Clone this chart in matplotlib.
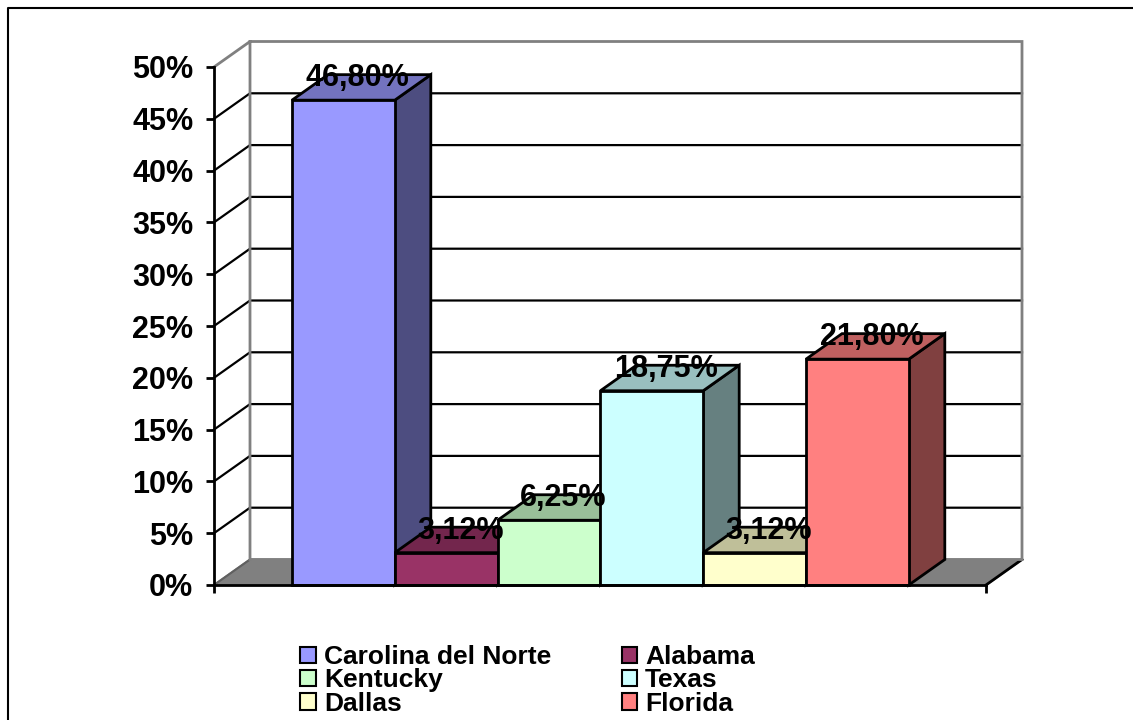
import matplotlib
matplotlib.use("Agg")
import matplotlib.pyplot as plt
from matplotlib.lines import Line2D
from matplotlib.patches import Polygon, Patch
from matplotlib.colors import to_rgb

categories = ["Carolina del Norte", "Alabama", "Kentucky", "Texas", "Dallas", "Florida"]
values = [46.80, 3.12, 6.25, 18.75, 3.12, 21.80]
colors = ["#9999FF", "#993366", "#CCFFCC", "#CCFFFF", "#FFFFCC", "#FF8080"]
y_ticks = list(range(0, 55, 5))

W, H = 1133, 720
plt.rcParams["font.family"] = ["Liberation Sans", "DejaVu Sans"]
plt.rcParams["font.weight"] = "bold"

fig = plt.figure(figsize=(W / 100, H / 100), dpi=100)
L, R, B0, T50 = 214, 986, 585, 67
ax = fig.add_axes([L / W, 1 - B0 / H, (R - L) / W, (B0 - T50) / H])

cat_px = 102.8
pct_px = (B0 - T50) / 50
ax.set_xlim(-0.5 - (292 - L) / cat_px, -0.5 - (292 - L) / cat_px + (R - L) / cat_px)
ax.set_ylim(0, 50)
x0, x1 = ax.get_xlim()
dx, dy = 36 / cat_px, 25.5 / pct_px


def shade(c, f):
    return tuple(v * f for v in to_rgb(c))


def poly(pts, fc, ec, lw=2.0, z=1):
    ax.add_patch(Polygon(pts, closed=True, facecolor=fc, edgecolor=ec, lw=lw,
                         zorder=z, clip_on=False, joinstyle="miter"))


# floor
poly([(x0, 0), (x0 + dx, dy), (x1 + dx, dy), (x1, 0)], "#808080", "#808080", 1.5, 1)
ax.plot([x1, x1 + dx], [0, dy], color="black", lw=2, zorder=1.2, clip_on=False)
ax.plot([x0, x0 + dx], [0, dy], color="#606060", lw=1.5, zorder=1.2, clip_on=False)

# gridlines on side and back walls
for t in y_ticks[1:-1]:
    ax.plot([x0, x0 + dx, x1 + dx], [t, t + dy, t + dy], color="black", lw=1.6,
            zorder=1.3, clip_on=False, solid_joinstyle="miter")

# wall outline
top = y_ticks[-1]
ax.plot([x0, x0 + dx, x1 + dx, x1 + dx, x0 + dx, x0 + dx],
        [top, top + dy, top + dy, dy, dy, top + dy], color="#808080", lw=2,
        zorder=1.4, clip_on=False, solid_joinstyle="miter")

# 3D bars
for i, (v, c) in enumerate(zip(values, colors)):
    a, b = i - 0.5, i + 0.5
    z = 2 + i * 0.1
    poly([(b, 0), (b + dx, dy), (b + dx, v + dy), (b, v)], shade(c, 0.5), "black", 2, z)
    poly([(a, v), (a + dx, v + dy), (b + dx, v + dy), (b, v)], shade(c, 0.75), "black", 2, z)
    poly([(a, 0), (b, 0), (b, v), (a, v)], c, "black", 2, z)

# data labels
for i, v in enumerate(values):
    ax.text(i + 14 / cat_px, v + 22 / pct_px, f"{v:.2f}%".replace(".", ","),
            ha="center", va="center", fontsize=22, fontweight="bold", color="black",
            zorder=5, clip_on=False)

# axes
for s in ("top", "right"):
    ax.spines[s].set_visible(False)
for s in ("left", "bottom"):
    ax.spines[s].set_linewidth(2)
    ax.spines[s].set_zorder(4)
ax.patch.set_visible(False)
ax.set_yticks(y_ticks)
ax.set_yticklabels([f"{t}%" for t in y_ticks], fontsize=22, fontweight="bold")
ax.set_xticks([x0, x1])
ax.set_xticklabels([])
ax.tick_params(axis="both", length=6, width=2, pad=9)

# legend: filled row by row in the reference, so hand matplotlib the columns
handles = [Patch(facecolor=c, edgecolor="black", lw=1.5) for c in colors]
order = [0, 2, 4, 1, 3, 5]
leg = fig.legend([handles[i] for i in order], [categories[i] for i in order],
                 ncol=2, loc="upper left",
                 bbox_to_anchor=(295 / W, 1 - 640 / H), frameon=False,
                 prop={"family": "Liberation Sans", "weight": "bold", "size": 19},
                 handlelength=0.58, handleheight=0.58, handletextpad=0.31,
                 labelspacing=-0.03, columnspacing=2.68, borderpad=0.2, borderaxespad=0)

# outer frame
fig.add_artist(Line2D([8 / W, 8 / W, 1], [0, 1 - 7.5 / H, 1 - 7.5 / H], color="black", lw=1.5,
                      transform=fig.transFigure))

fig.savefig("out.png", dpi=100)
